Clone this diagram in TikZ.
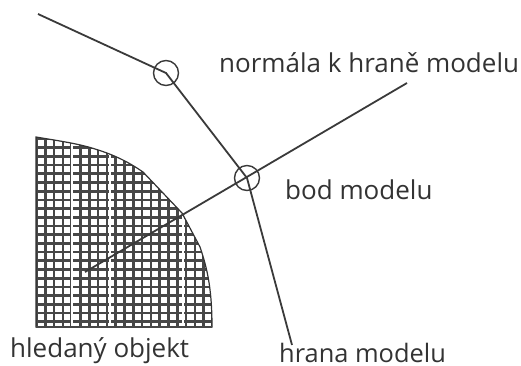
\documentclass[tikz,border=0pt]{standalone}
\usepackage{fontspec}
\setmainfont{Open Sans}
\usepackage{xcolor}
\usetikzlibrary{positioning}
\definecolor{darkgray}{HTML}{3A3A3A}
\newcommand{\objectoutline}{(36,137) .. controls (60,141) and (80,144) .. (95,149) .. controls (115,155) and (130,163) .. (143,172)
      -- (182,213) -- (200,247) .. controls (206,265) and (212,285) .. (212,327) -- (36,327) -- cycle}
\tikzset{
  modelline/.style={darkgray, line width=1.8pt},
  modelpoint/.style={circle, draw=darkgray, line width=1.4pt, minimum size=25pt, inner sep=0pt},
  hatchline/.style={black!72, line width=2.7pt},
  gapline/.style={white, line width=1.8pt},
  caption/.style={text=black!80, font=\fontsize{26}{30}\selectfont, inner sep=0pt, anchor=base west}
}
\begin{document}
\begin{tikzpicture}[x=1pt,y=-1pt]
  \useasboundingbox (0,0) rectangle (521,365);
  % object
  \begin{scope}
    \clip \objectoutline;
    \foreach \y in {139,147.7,...,327}{
      \draw[hatchline] (30,\y)--(220,\y);
    }
    \foreach \x in {36.5,45.3,...,215}{
      \draw[hatchline] (\x,130)--(\x,330);
    }
    \foreach \x in {72,110,183}{
      \draw[gapline] (\x,130)--(\x,330);
    }
  \end{scope}
  \draw[black!80, line width=1.2pt] \objectoutline;
  \draw[hatchline] (36,327)--(212,327);
  % model
  \node[modelpoint] (upper) at (166,73) {};
  \node[modelpoint] (lower) at (247,178) {};
  \coordinate (start) at (38,14);
  \coordinate (finish) at (292,345);
  \coordinate (inner) at (85,272);
  \coordinate (outer) at (407,83);
  \draw[modelline] (start)--(upper.center)--(lower.center)--(finish);
  \draw[modelline] (inner)--(outer);
  % labels
  \node[caption] (normal) at (219,72) {normála k hraně modelu};
  \node[caption] (point) at (285,199) {bod modelu};
  \node[caption] (object) at (10,357.5) {hledaný objekt};
  \node[caption, font=\fontsize{25.4}{30}\selectfont] (edge) at (279,362.5) {hrana modelu};
\end{tikzpicture}
\end{document}
